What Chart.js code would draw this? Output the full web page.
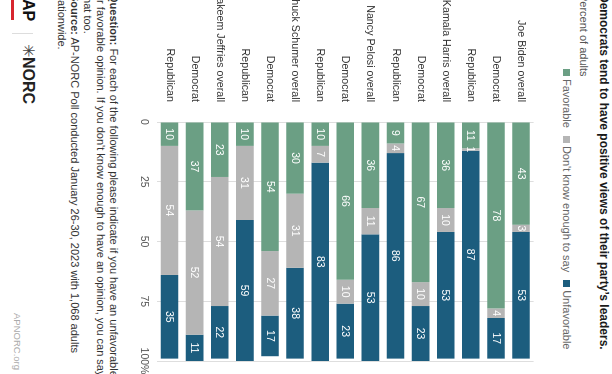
<!DOCTYPE html>
<html lang="en">
<head>
<meta charset="UTF-8">
<title>Democrats tend to have positive views of their party's leaders</title>
<script src="https://cdn.jsdelivr.net/npm/chart.js@4.4.0/dist/chart.umd.min.js"></script>
<style>
  html, body { margin: 0; padding: 0; width: 612px; height: 374px; overflow: hidden; background: #fff; }
  /* the whole graphic is laid out upright (374 x 612) and then turned a quarter clockwise */
  #page {
    position: absolute; left: 0; top: 0; width: 374px; height: 612px;
    transform-origin: 0 0; transform: translateX(612px) rotate(90deg);
    font-family: "Liberation Sans", Arial, sans-serif; color: #333; overflow: hidden; background: #fff;
  }
  #page > div { position: absolute; white-space: nowrap; }
  #title { left: -6px; top: 2px; font-size: 12px; line-height: 12px; font-weight: bold; color: #1a1a1a; }
  #subtitle { left: -6px; top: 23px; font-size: 11px; line-height: 11px; color: #555; }
  #legend { left: 69px; top: 40px; font-size: 11px; line-height: 11px; color: #666; display: flex; }
  #legend span.item { display: flex; align-items: center; margin-right: 8px; }
  #legend i { display: inline-block; width: 7px; height: 7px; margin-right: 3px; }
  #chartWrap { left: -7px; top: 60px; width: 400px; height: 420px; }
  #notes { left: -6px; top: 492px; font-size: 11px; line-height: 13px; color: #333; }
  #ap { left: -1px; top: 576px; font-size: 16px; line-height: 16px; font-weight: bold; color: #111; }
  #apline { left: 0; top: 598px; width: 20px; height: 3px; background: #d7262e; }
  #sep { left: 33px; top: 579px; width: 1px; height: 21px; background: #ddd; }
  #norc { left: 44px; top: 576px; font-size: 16px; line-height: 16px; font-weight: bold; color: #222; }
  #norc span { font-weight: normal; color: #444; }
  #site { right: 4px; top: 590px; font-size: 9.5px; line-height: 10px; color: #aaa; }
</style>
</head>
<body>
<div id="page">
  <div id="title">Democrats tend to have positive views of their party’s leaders.</div>
  <div id="subtitle">Percent of adults</div>
  <div id="legend"></div>
  <div id="chartWrap"><canvas id="chart" width="400" height="420"></canvas></div>
  <div id="notes"><b>Question:</b> For each of the following please indicate if you have an unfavorable<br>or favorable opinion. If you don't know enough to have an opinion, you can say<br>that too.<br><b>Source:</b> AP-NORC Poll conducted January 26-30, 2023 with 1,068 adults<br>nationwide.</div>
  <div id="ap">AP</div>
  <div id="apline"></div>
  <div id="sep"></div>
  <div id="norc"><span>✳</span>NORC</div>
  <div id="site">APNORC.org</div>
</div>
<script>
// rows, top to bottom
const categories = [
  'Joe Biden overall', 'Democrat', 'Republican',
  'Kamala Harris overall', 'Democrat', 'Republican',
  'Nancy Pelosi overall', 'Democrat', 'Republican',
  'Chuck Schumer overall', 'Democrat', 'Republican',
  'Hakeem Jeffries overall', 'Democrat', 'Republican'
];
const favorable   = [43, 78, 11, 36, 67,  9, 36, 66, 10, 30, 54, 10, 23, 37, 10];
const dontKnow    = [ 3,  4,  1, 10, 10,  4, 11, 10,  7, 31, 27, 31, 54, 52, 54];
const unfavorable = [53, 17, 87, 53, 23, 86, 53, 23, 83, 38, 17, 59, 22, 11, 35];
const seriesNames = ['Favorable', "Don't know enough to say", 'Unfavorable'];
const seriesColors = ['#6b9f84', '#b5b5b5', '#1c5d7e'];
const xTicks = [0, 25, 50, 75, 100];

// legend built from the series names
const legend = document.getElementById('legend');
seriesNames.forEach((name, i) => {
  const item = document.createElement('span');
  item.className = 'item';
  item.innerHTML = '<i style="background:' + seriesColors[i] + '"></i>' + name;
  legend.appendChild(item);
});

// white value labels in the middle of each segment
const barLabels = {
  id: 'barLabels',
  afterDatasetsDraw(chart) {
    const ctx = chart.ctx;
    ctx.save();
    ctx.font = '10.5px "Liberation Sans", Arial, sans-serif';
    ctx.fillStyle = '#fff';
    ctx.textAlign = 'center';
    ctx.textBaseline = 'middle';
    chart.data.datasets.forEach((ds, i) => {
      chart.getDatasetMeta(i).data.forEach((bar, j) => {
        const p = bar.getCenterPoint();
        ctx.fillText(ds.data[j], p.x, p.y + 0.5);
      });
    });
    ctx.restore();
  }
};

const values = [favorable, dontKnow, unfavorable];
new Chart(document.getElementById('chart'), {
  type: 'bar',
  data: {
    labels: categories,
    datasets: values.map((v, i) => ({
      label: seriesNames[i],
      data: v,
      backgroundColor: seriesColors[i],
      borderWidth: 0,
      categoryPercentage: 1,
      barPercentage: 0.7
    }))
  },
  options: {
    indexAxis: 'y',
    responsive: false,
    animation: false,
    devicePixelRatio: 1,
    layout: { padding: { top: 7, right: 32, bottom: 0, left: 0 } },
    plugins: { legend: { display: false }, tooltip: { enabled: false } },
    scales: {
      x: {
        stacked: true, min: 0, max: 100,
        afterBuildTicks: s => { s.ticks = xTicks.map(v => ({ value: v })); },
        ticks: {
          padding: 7, color: '#555',
          font: { family: '"Liberation Sans", Arial, sans-serif', size: 10.5 },
          callback: v => v === 100 ? '100%' : v
        },
        grid: { color: '#dedede', drawTicks: false },
        border: { display: false },
        afterFit: s => { s.height = 25; }
      },
      y: {
        stacked: true,
        ticks: {
          padding: 12, color: '#333', autoSkip: false,
          font: { family: '"Liberation Sans", Arial, sans-serif', size: 10.7 }
        },
        grid: { display: false },
        border: { display: false },
        afterFit: s => { s.width = 129; }
      }
    }
  },
  plugins: [barLabels]
});
</script>
</body>
</html>
